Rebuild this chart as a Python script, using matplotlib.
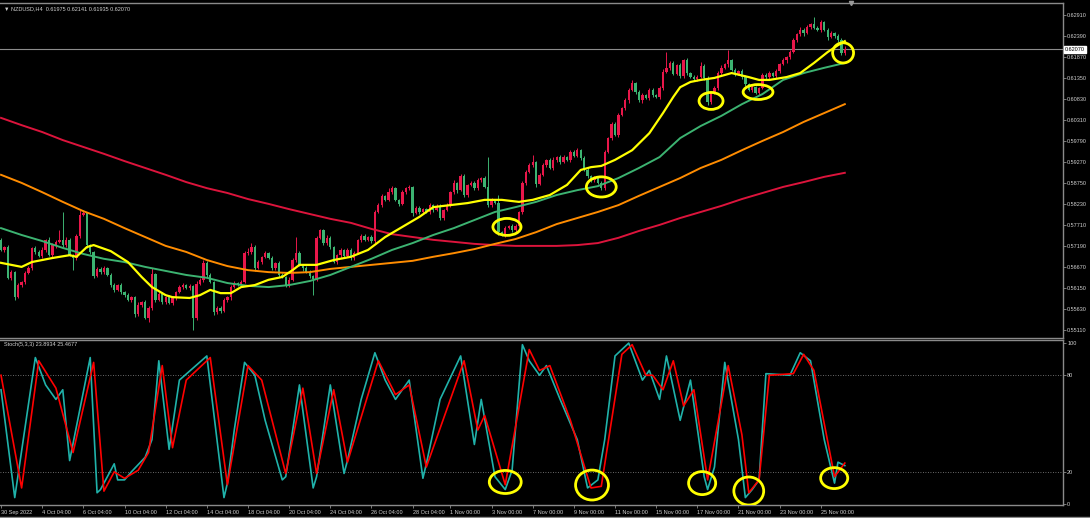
import numpy as np
import matplotlib
matplotlib.use("Agg")
import matplotlib.pyplot as plt
from matplotlib.patches import Ellipse

plt.rcParams['font.family'] = ['Liberation Sans', 'DejaVu Sans']

# NZDUSD H4 closes, one per bar from 30 Sep 2022 04:00
first_open = 0.5735
closes = [
    0.5710, 0.5717, 0.5641, 0.5655, 0.5593, 0.5623, 0.5631, 0.5653, 0.5665, 0.5715,
    0.5705, 0.5695, 0.5710, 0.5735, 0.5697, 0.5722, 0.5730, 0.5735, 0.5722, 0.5735,
    0.5697, 0.5690, 0.5745, 0.5797, 0.5801, 0.5722, 0.5705, 0.5645, 0.5663, 0.5655,
    0.5665, 0.5648, 0.5623, 0.5611, 0.5623, 0.5606, 0.5598, 0.5586, 0.5593, 0.5551,
    0.5574, 0.5581, 0.5541, 0.5566, 0.5650, 0.5586, 0.5601, 0.5581, 0.5593, 0.5579,
    0.5591, 0.5606, 0.5618, 0.5623, 0.5616, 0.5621, 0.5541, 0.5626, 0.5636, 0.5678,
    0.5648, 0.5631, 0.5556, 0.5566, 0.5559, 0.5586, 0.5593, 0.5618, 0.5628, 0.5626,
    0.5631, 0.5702, 0.5705, 0.5717, 0.5665, 0.5680, 0.5693, 0.5702, 0.5690, 0.5665,
    0.5678, 0.5648, 0.5643, 0.5623, 0.5636, 0.5685, 0.5702, 0.5673, 0.5665, 0.5655,
    0.5645, 0.5638, 0.5740, 0.5759, 0.5727, 0.5740, 0.5717, 0.5680, 0.5697, 0.5710,
    0.5695, 0.5710, 0.5690, 0.5702, 0.5735, 0.5745, 0.5735, 0.5742, 0.5732, 0.5804,
    0.5821, 0.5844, 0.5834, 0.5853, 0.5863, 0.5834, 0.5824, 0.5853, 0.5863, 0.5866,
    0.5801, 0.5814, 0.5804, 0.5811, 0.5804, 0.5821, 0.5809, 0.5819, 0.5789, 0.5809,
    0.5821, 0.5853, 0.5876, 0.5858, 0.5893, 0.5846, 0.5871, 0.5876, 0.5863, 0.5883,
    0.5888, 0.5866, 0.5821, 0.5834, 0.5826, 0.5754, 0.5749, 0.5764, 0.5769, 0.5759,
    0.5769, 0.5804, 0.5876, 0.5903, 0.5920, 0.5928, 0.5873, 0.5896, 0.5920, 0.5933,
    0.5913, 0.5933, 0.5940, 0.5928, 0.5940, 0.5933, 0.5953, 0.5943, 0.5957, 0.5938,
    0.5908, 0.5893, 0.5883, 0.5888, 0.5876, 0.5863, 0.5953, 0.5987, 0.6022, 0.5995,
    0.6044, 0.6061, 0.6081, 0.6106, 0.6123, 0.6101, 0.6081, 0.6094, 0.6086, 0.6106,
    0.6094, 0.6089, 0.6111, 0.6151, 0.6161, 0.6173, 0.6146, 0.6168, 0.6141, 0.6180,
    0.6148, 0.6138, 0.6133, 0.6138, 0.6165, 0.6136, 0.6076, 0.6099, 0.6111, 0.6148,
    0.6161, 0.6170, 0.6180, 0.6156, 0.6146, 0.6153, 0.6138, 0.6121, 0.6106, 0.6113,
    0.6099, 0.6111, 0.6143, 0.6138, 0.6148, 0.6141, 0.6153, 0.6170, 0.6180, 0.6188,
    0.6200, 0.6230, 0.6245, 0.6255, 0.6247, 0.6262, 0.6269, 0.6260, 0.6255, 0.6274,
    0.6255, 0.6237, 0.6247, 0.6240, 0.6230, 0.61975, 0.62070,
]
# wick lengths beyond the body, in pips
wick_up = [
    4, 3, 5, 6, 2, 5, 3, 4, 6, 3, 5, 4, 7, 3, 6, 5, 4, 25, 70, 6,
    4, 3, 5, 12, 8, 4, 3, 2, 5, 4, 5, 3, 4, 6, 3, 4, 2, 5, 3, 4,
    6, 3, 5, 4, 15, 3, 6, 4, 3, 5, 4, 3, 5, 6, 3, 4, 3, 6, 4, 8,
    5, 4, 3, 6, 4, 5, 3, 4, 6, 3, 5, 6, 9, 10, 4, 5, 3, 6, 4, 5,
    3, 4, 5, 3, 6, 4, 40, 5, 3, 4, 6, 3, 5, 4, 3, 6, 5, 3, 4, 5,
    3, 5, 4, 6, 3, 4, 5, 3, 4, 6, 5, 4, 3, 10, 5, 4, 3, 5, 4, 6,
    3, 4, 5, 3, 4, 6, 3, 5, 4, 3, 5, 4, 6, 3, 5, 4, 3, 5, 4, 6,
    3, 5, 74, 4, 3, 20, 4, 5, 3, 4, 5, 3, 4, 6, 5, 17, 3, 4, 5, 3,
    4, 6, 3, 5, 4, 3, 5, 4, 6, 3, 4, 5, 3, 4, 6, 5, 4, 3, 5, 4,
    6, 3, 5, 4, 8, 3, 5, 4, 3, 6, 4, 3, 5, 6, 40, 4, 5, 3, 6, 4,
    5, 3, 4, 6, 10, 5, 4, 3, 5, 4, 6, 3, 25, 4, 5, 3, 6, 4, 3, 5,
    4, 3, 5, 6, 4, 3, 5, 4, 6, 3, 5, 4, 3, 6, 5, 4, 3, 17, 4, 5,
    3, 4, 5, 3, 4, 6, 7,
]
wick_dn = [
    3, 5, 4, 6, 8, 3, 4, 5, 3, 4, 6, 3, 5, 4, 3, 5, 6, 3, 4, 5,
    3, 30, 4, 5, 3, 6, 4, 5, 3, 4, 5, 3, 4, 6, 3, 5, 4, 3, 5, 8,
    4, 5, 3, 10, 4, 6, 3, 5, 4, 3, 5, 4, 3, 5, 4, 6, 30, 4, 3, 5,
    4, 3, 8, 4, 5, 3, 4, 6, 3, 5, 4, 3, 5, 4, 6, 3, 5, 4, 3, 5,
    4, 6, 3, 5, 4, 3, 5, 4, 6, 3, 4, 40, 5, 3, 6, 4, 5, 3, 4, 6,
    5, 3, 4, 6, 3, 5, 4, 3, 6, 4, 3, 5, 4, 3, 5, 4, 6, 3, 4, 5,
    6, 3, 4, 5, 3, 4, 5, 3, 6, 4, 3, 5, 4, 6, 3, 5, 4, 3, 5, 4,
    6, 3, 4, 5, 3, 8, 4, 6, 3, 5, 4, 3, 5, 4, 3, 5, 6, 3, 4, 5,
    3, 4, 5, 6, 3, 4, 5, 3, 4, 6, 3, 5, 4, 6, 3, 5, 4, 3, 6, 4,
    5, 3, 4, 6, 3, 5, 4, 6, 3, 4, 5, 3, 4, 6, 3, 5, 4, 3, 5, 4,
    6, 3, 4, 5, 3, 6, 8, 4, 3, 5, 4, 3, 6, 4, 5, 3, 4, 6, 3, 5,
    4, 6, 3, 5, 4, 3, 5, 4, 3, 6, 4, 3, 5, 4, 6, 3, 5, 4, 3, 5,
    4, 6, 3, 5, 4, 5, 4,
]

# fast moving average (yellow), read at these bars
yellow_idx = [0, 6, 9, 15, 20, 22, 25, 27, 32, 37, 41, 44, 48, 50, 55, 58, 61, 64, 67, 70,
              74, 78, 82, 85, 87, 92, 97, 102, 107, 112, 117, 122, 126, 131, 136, 141, 146, 151, 155, 160,
              165, 169, 172, 175, 179, 184, 189, 193, 196, 198, 201, 204, 208, 213, 218, 221, 224, 229, 233, 237,
              241, 244, 246]
ma_yellow = [0.5678, 0.5668, 0.5680, 0.5690, 0.5697, 0.5693, 0.5717, 0.5722, 0.5707, 0.5680,
             0.5643, 0.5618, 0.5598, 0.5593, 0.5591, 0.5598, 0.5611, 0.5603, 0.5603, 0.5618,
             0.5623, 0.5636, 0.5643, 0.5660, 0.5673, 0.5673, 0.5685, 0.5693, 0.5710, 0.5742,
             0.5767, 0.5792, 0.5816, 0.5821, 0.5826, 0.5834, 0.5834, 0.5829, 0.5834, 0.5846,
             0.5871, 0.5908, 0.5915, 0.5918, 0.5933, 0.5957, 0.5999, 0.6049, 0.6089, 0.6113,
             0.6126, 0.6131, 0.6136, 0.6148, 0.6138, 0.6131, 0.6131, 0.6138, 0.6148, 0.6173,
             0.6200, 0.6217, 0.6227]

# slower moving averages, read every 6 bars
ma_idx = list(range(0, 247, 6))
ma_green = [0.5764, 0.5747, 0.5732, 0.5715, 0.5700, 0.5688, 0.5680, 0.5668, 0.5658, 0.5648,
            0.5641, 0.5628, 0.5621, 0.5618, 0.5623, 0.5633, 0.5648, 0.5668, 0.5688, 0.5710,
            0.5727, 0.5747, 0.5764, 0.5784, 0.5804, 0.5816, 0.5829, 0.5846, 0.5858, 0.5868,
            0.5888, 0.5913, 0.5940, 0.5987, 0.6017, 0.6042, 0.6071, 0.6096, 0.6131, 0.6148,
            0.6161, 0.6173]
ma_orange = [0.5896, 0.5876, 0.5853, 0.5829, 0.5806, 0.5787, 0.5764, 0.5742, 0.5720, 0.5705,
             0.5685, 0.5670, 0.5660, 0.5655, 0.5653, 0.5655, 0.5663, 0.5668, 0.5673, 0.5678,
             0.5683, 0.5693, 0.5702, 0.5712, 0.5725, 0.5737, 0.5754, 0.5774, 0.5789, 0.5804,
             0.5821, 0.5844, 0.5866, 0.5888, 0.5913, 0.5933, 0.5957, 0.5980, 0.6002, 0.6027,
             0.6049, 0.6071]
ma_red = [0.6037, 0.6019, 0.6002, 0.5982, 0.5965, 0.5948, 0.5930, 0.5913, 0.5896, 0.5878,
          0.5863, 0.5851, 0.5836, 0.5824, 0.5811, 0.5799, 0.5787, 0.5777, 0.5762, 0.5749,
          0.5742, 0.5735, 0.5730, 0.5725, 0.5722, 0.5720, 0.5720, 0.5720, 0.5722, 0.5727,
          0.5740, 0.5757, 0.5772, 0.5789, 0.5804, 0.5819, 0.5836, 0.5851, 0.5866, 0.5878,
          0.5891, 0.5901]

# stochastic (5,3,3): turning points
stoch_main_idx = [0, 4, 10, 13, 16, 18, 20, 26, 28, 29, 33, 34, 36, 38, 42, 44, 46, 49, 52, 60,
                  65, 66, 68, 71, 74, 77, 82, 83, 87, 91, 92, 96, 100, 101, 105, 109, 112, 115, 119, 123,
                  124, 128, 134, 138, 140, 144, 147, 149, 152, 154, 157, 159, 163, 168, 171, 174, 176, 179, 183, 187,
                  189, 192, 194, 198, 201, 205, 206, 208, 211, 215, 217, 219, 221, 223, 230, 233, 236, 240, 243, 244,
                  246]
stoch_main = [71, 4, 91, 74, 65, 71, 27, 91, 7, 9, 25, 15, 15, 20, 29, 40, 89, 34, 77, 92,
              4, 13, 46, 88, 80, 52, 15, 17, 74, 10, 17, 74, 19, 27, 65, 94, 77, 65, 77, 16,
              25, 65, 92, 37, 65, 17, 9, 21, 99, 89, 80, 86, 65, 40, 10, 15, 40, 92, 100, 77,
              83, 65, 92, 52, 77, 17, 9, 23, 88, 40, 4, 9, 15, 81, 80, 94, 89, 40, 13, 26,
              23.8934]
stoch_sig_idx = [0, 6, 11, 16, 21, 27, 30, 33, 36, 40, 43, 47, 50, 54, 61, 66, 72, 76, 83, 88,
                 92, 97, 101, 110, 115, 119, 124, 135, 139, 141, 147, 154, 157, 160, 166, 172, 175, 181, 184, 188,
                 190, 193, 196, 199, 202, 206, 212, 216, 218, 221, 224, 231, 234, 237, 243, 246]
stoch_sig = [80, 10, 89, 72, 32, 88, 8, 20, 16, 21, 32, 86, 35, 77, 91, 12, 86, 77, 19, 72,
             19, 71, 26, 89, 68, 74, 23, 89, 46, 55, 12, 96, 83, 86, 52, 10, 11, 93, 99, 80,
             80, 71, 89, 61, 71, 15, 86, 43, 7, 15, 80, 81, 93, 83, 17, 25.4677]

price_ticks = [0.55110, 0.55630, 0.56150, 0.56670, 0.57190, 0.57710, 0.58230, 0.58750,
               0.59270, 0.59790, 0.60310, 0.60830, 0.61350, 0.61870, 0.62390, 0.62910]
date_idx = [0, 12, 24, 36, 48, 60, 72, 84, 96, 108, 120, 131, 143, 155, 167, 179, 191, 203, 215, 227, 239]
date_labels = ['30 Sep 2022', '4 Oct 04:00', '6 Oct 04:00', '10 Oct 04:00', '12 Oct 04:00',
               '14 Oct 04:00', '18 Oct 04:00', '20 Oct 04:00', '24 Oct 04:00', '26 Oct 04:00',
               '28 Oct 04:00', '1 Nov 00:00', '3 Nov 00:00', '7 Nov 00:00', '9 Nov 00:00',
               '11 Nov 00:00', '15 Nov 00:00', '17 Nov 00:00', '21 Nov 00:00', '23 Nov 00:00',
               '25 Nov 00:00']

# yellow circles drawn on the screenshot: (bar, value, width in bars, height)
price_marks = [(147.5, 0.5767, 8.2, 0.0042), (175, 0.5866, 8.7, 0.0050),
               (207, 0.6079, 7.0, 0.0042), (220.7, 0.6101, 8.7, 0.0037),
               (245.5, 0.6198, 6.1, 0.0050)]
stoch_marks = [(147, 13.7, 9.3, 14.3), (172.3, 11.8, 9.6, 18.6), (204.4, 13.0, 7.9, 14.3),
               (218, 8.1, 8.7, 17.4), (242.9, 16.1, 7.9, 13.0)]

BG = 'black'
FRAME = '#8a8a8a'
TXT = '#d0d0d0'
BULL = '#e8174a'
BEAR = '#3cb371'

fig = plt.figure(figsize=(10.9, 5.18), dpi=100, facecolor=BG)
ax = fig.add_axes([0, 0.3475, 0.9752, 0.6467], facecolor=BG)
ax2 = fig.add_axes([0, 0.0251, 0.9752, 0.3185], facecolor=BG)

# candles
n = len(closes)
idx = np.arange(n)
c = np.array(closes)
o = np.array([first_open] + closes[:-1])
hi = np.maximum(o, c) + np.array(wick_up) * 0.0001
lo = np.minimum(o, c) - np.array(wick_dn) * 0.0001
cols = np.where(c >= o, BULL, BEAR)
ax.vlines(idx, lo, hi, colors=cols, linewidth=0.7, zorder=2)
body = np.maximum(np.abs(c - o), 0.00006)
ax.bar(idx, body, bottom=np.minimum(o, c), width=0.68, color=cols, linewidth=0, zorder=3)

# moving averages
ax.plot(ma_idx, ma_red, color='#dc143c', lw=1.4, zorder=4)
ax.plot(ma_idx, ma_orange, color='#ff8c00', lw=1.4, zorder=4)
ax.plot(ma_idx, ma_green, color='#3cb371', lw=1.4, zorder=4)
ax.plot(yellow_idx, ma_yellow, color='#ffff00', lw=1.6, zorder=5)

# current price line
ax.axhline(closes[-1], color='#8c8c8c', lw=0.8, zorder=1)
ax.text(1.002, closes[-1], '%.5f' % closes[-1], transform=ax.get_yaxis_transform(),
        fontsize=4, color='black', va='center', ha='left',
        bbox=dict(boxstyle='square,pad=0.15', fc='white', ec='white'))

for x, y, w, h in price_marks:
    ax.add_patch(Ellipse((x, y), w, h, fill=False, ec='#ffff00', lw=2.0, zorder=6))

ax.set_xlim(-0.3, 309.6)
ax.set_ylim(0.54919, 0.63215)
ax.set_xticks([])
ax.yaxis.tick_right()
ax.set_yticks(price_ticks)
ax.set_yticklabels(['%.5f' % v for v in price_ticks])
ax.tick_params(axis='y', colors=FRAME, labelcolor=TXT, labelsize=4, length=2, width=0.6, pad=1)

ax.text(0.004, 0.99, '\u25bc NZDUSD,H4  0.61975 0.62141 0.61935 0.62070', transform=ax.transAxes,
        fontsize=4, color=TXT, va='top', ha='left')
ax.plot([247.8], [0.63215], marker='v', color='#9a9a9a', markersize=3, clip_on=False, zorder=7)

# stochastic panel
ax2.axhline(80, color='#8c8c8c', lw=0.6, ls=(0, (1, 2)))
ax2.axhline(20, color='#8c8c8c', lw=0.6, ls=(0, (1, 2)))
ax2.plot(stoch_main_idx, stoch_main, color='#20b2aa', lw=1.2, zorder=3)
ax2.plot(stoch_sig_idx, stoch_sig, color='#ff0000', lw=1.2, zorder=4)
for x, y, w, h in stoch_marks:
    ax2.add_patch(Ellipse((x, y), w, h, fill=False, ec='#ffff00', lw=2.0, zorder=6))

ax2.set_xlim(-0.3, 309.6)
ax2.set_ylim(-0.6, 101.9)
ax2.yaxis.tick_right()
ax2.set_yticks([0, 20, 80, 100])
ax2.set_yticklabels(['0', '20', '80', '100'])
ax2.tick_params(axis='y', colors=FRAME, labelcolor=TXT, labelsize=4, length=2, width=0.6, pad=1)
ax2.set_xticks(date_idx)
ax2.set_xticklabels(date_labels)
for lab in ax2.get_xticklabels():
    lab.set_horizontalalignment('left')
ax2.tick_params(axis='x', colors=FRAME, labelcolor=TXT, labelsize=4, length=2, width=0.6, pad=1.5)
ax2.text(0.004, 0.985, 'Stoch(5,3,3) 23.8934 25.4677', transform=ax2.transAxes,
         fontsize=4, color=TXT, va='top', ha='left')

for a in (ax, ax2):
    a.spines['left'].set_visible(False)
    for s in ('top', 'bottom', 'right'):
        a.spines[s].set_color(FRAME)
        a.spines[s].set_linewidth(1.0)

fig.add_artist(plt.Line2D([0, 1], [0.002, 0.002], color=FRAME, lw=1.0))

fig.savefig('out.png', dpi=100, facecolor=BG)
